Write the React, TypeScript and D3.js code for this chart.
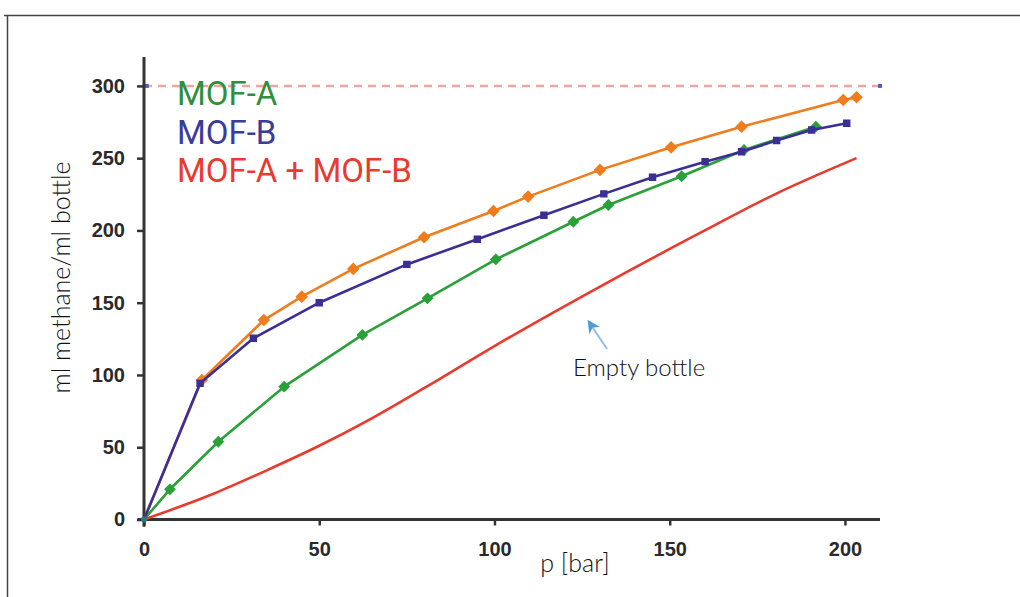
import { useEffect, useRef } from 'react'
import * as d3 from 'd3'

// p [bar] vs ml methane / ml bottle
const mofA: [number, number][] = [
  [0, 0], [7.4, 20.9], [21.2, 53.8], [40, 91.9], [62.3, 127.7], [80.9, 153],
  [100.4, 180], [122.5, 206], [132.5, 217.6], [153.4, 237.5], [171.2, 255.7], [191.7, 271.8],
]
const mofB: [number, number][] = [
  [0, 0], [16, 94.2], [31.2, 125.4], [50, 150], [75, 176.5], [95.1, 193.9],
  [114.1, 210.5], [131.2, 225.3], [145.1, 236.8], [160.1, 247.6], [170.5, 254.5],
  [180.5, 262.2], [190.5, 269.5], [200.5, 274.2],
]
const mofAB: [number, number][] = [
  [0, 0], [16.5, 96.5], [34.2, 138], [45, 154.2], [59.7, 173.4], [79.9, 195.3],
  [99.7, 213.5], [109.6, 223.4], [130.1, 241.9], [150.4, 257.5], [170.5, 271.8],
  [199.5, 290.3], [203.3, 292.2],
]
const emptyBottle: [number, number][] = [
  [0, 0], [20, 18], [35, 34], [50, 51], [65, 70], [80, 91], [100, 120],
  [130, 161], [160, 200], [180, 225], [203.3, 250],
]
const xTicks = [0, 50, 100, 150, 200]
const yTicks = [0, 50, 100, 150, 200, 250, 300]
const legend = [
  { label: 'MOF-A', color: '#2f8f3c' },
  { label: 'MOF-B', color: '#3b3b9c' },
  { label: 'MOF-A + MOF-B', color: '#ea3a2e' },
]

export default function App() {
  const svgRef = useRef<SVGSVGElement>(null)

  useEffect(() => {
    if (!svgRef.current) return
    const svg = d3.select(svgRef.current)
    svg.selectAll('*').remove()

    const x = d3.scaleLinear().domain([0, 210]).range([144, 880])
    const y = d3.scaleLinear().domain([0, 320]).range([519.5, 57])

    // frame
    svg.append('path')
      .attr('d', 'M4,15.5 H1020 M7.5,15 V597')
      .attr('fill', 'none')
      .attr('stroke', '#444')
      .attr('stroke-width', 1.5)

    // 300 reference line
    svg.append('line')
      .attr('x1', x(0)).attr('x2', x(210))
      .attr('y1', y(300)).attr('y2', y(300))
      .attr('stroke', '#f4a3a3')
      .attr('stroke-width', 2.5)
      .attr('stroke-dasharray', '8,6')
    ;[x(0.8), x(210)].forEach((cx) => {
      svg.append('rect')
        .attr('x', cx - 2).attr('y', y(300) - 2)
        .attr('width', 4).attr('height', 4)
        .attr('fill', '#4a5fc0')
    })

    // axes
    const xAxis = svg.append('g')
      .attr('transform', `translate(0,${y(0)})`)
      .call(d3.axisBottom(x).tickValues(xTicks).tickSize(6).tickSizeOuter(0).tickPadding(16))
    xAxis.select('.domain').remove()
    svg.append('line')
      .attr('x1', x(-1.8)).attr('x2', x(210))
      .attr('y1', y(0)).attr('y2', y(0))
      .attr('stroke', '#333').attr('stroke-width', 3)

    const yAxis = svg.append('g')
      .attr('transform', `translate(${x(0)},0)`)
      .call(d3.axisLeft(y).tickValues(yTicks).tickSize(7).tickSizeOuter(0).tickPadding(12))
    yAxis.select('.domain').remove()
    svg.append('line')
      .attr('x1', x(0)).attr('x2', x(0))
      .attr('y1', y(-5)).attr('y2', y(320))
      .attr('stroke', '#333').attr('stroke-width', 3)

    svg.selectAll('.tick line').attr('stroke', '#333').attr('stroke-width', 2.5)
    svg.selectAll('.tick text')
      .attr('font-family', 'Liberation Sans, Arial, sans-serif')
      .attr('font-weight', 'bold')
      .attr('font-size', '20px')
      .attr('fill', '#2a2a2a')

    const line = d3.line<[number, number]>().x((d) => x(d[0])).y((d) => y(d[1]))

    const drawSeries = (data: [number, number][], color: string, marker: 'diamond' | 'square' | null, size: number) => {
      svg.append('path')
        .datum(data)
        .attr('fill', 'none')
        .attr('stroke', color)
        .attr('stroke-width', 2.6)
        .attr('stroke-linejoin', 'round')
        .attr('d', marker ? line : line.curve(d3.curveMonotoneX))
      line.curve(d3.curveLinear)
      if (!marker) return
      const sym = d3.symbol().type(marker === 'diamond' ? d3.symbolDiamond2 : d3.symbolSquare2).size(size)
      svg.append('g').selectAll('path')
        .data(data.slice(1))
        .join('path')
        .attr('transform', (d) => `translate(${x(d[0])},${y(d[1])})`)
        .attr('d', sym)
        .attr('fill', color)
        .attr('stroke', color)
        .attr('stroke-width', 1.5)
    }

    drawSeries(emptyBottle, '#ea3a2e', null, 0)
    drawSeries(mofA, '#2aa038', 'diamond', 60)
    drawSeries(mofAB, '#f07c1e', 'diamond', 70)
    drawSeries(mofB, '#3a2f96', 'square', 45)

    // origin marker
    svg.append('circle')
      .attr('cx', x(0)).attr('cy', y(0)).attr('r', 3)
      .attr('fill', '#2c7a7a')

    // legend
    legend.forEach((l, i) => {
      svg.append('text')
        .attr('x', 177)
        .attr('y', 105 + i * 38.5)
        .attr('fill', l.color)
        .attr('font-family', 'Roboto, sans-serif')
        .attr('font-size', '33px')
        .text(l.label)
    })

    // annotation
    const defs = svg.append('defs')
    defs.append('marker')
      .attr('id', 'arr')
      .attr('viewBox', '0 0 10 10')
      .attr('refX', 8).attr('refY', 5)
      .attr('markerWidth', 6.5).attr('markerHeight', 6.5)
      .attr('orient', 'auto')
      .append('path')
      .attr('d', 'M0,0 L10,5 L0,10 L3,5 Z')
      .attr('fill', '#4f9ad8')
    svg.append('line')
      .attr('x1', 607).attr('y1', 349)
      .attr('x2', 589).attr('y2', 322)
      .attr('stroke', '#8cbde8')
      .attr('stroke-width', 2)
      .attr('marker-end', 'url(#arr)')

    const light = 'Lato, Noto Sans, sans-serif'
    svg.append('text')
      .attr('x', 573).attr('y', 376)
      .attr('font-family', light).attr('font-weight', 300)
      .attr('font-size', '24px').attr('fill', '#111')
      .text('Empty bottle')

    svg.append('text')
      .attr('x', 575).attr('y', 572)
      .attr('text-anchor', 'middle')
      .attr('font-family', light).attr('font-weight', 300)
      .attr('font-size', '25px').attr('fill', '#111')
      .text('p [bar]')

    svg.append('text')
      .attr('transform', `translate(70,${(145 + 410) / 2}) rotate(-90)`)
      .attr('text-anchor', 'middle')
      .attr('font-family', light).attr('font-weight', 300)
      .attr('font-size', '25px').attr('fill', '#111')
      .text('ml methane/ml bottle')
  }, [])

  return (
    <svg
      ref={svgRef}
      width={1020}
      height={597}
      style={{ position: 'absolute', left: 0, top: 0, background: '#fff' }}
    />
  )
}
